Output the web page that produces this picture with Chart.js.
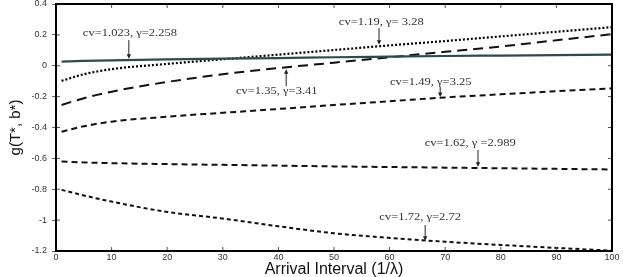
<!DOCTYPE html>
<html><head><meta charset="utf-8">
<script src="https://cdn.jsdelivr.net/npm/chart.js@4/dist/chart.umd.min.js"></script>
<style>html,body{margin:0;padding:0;background:#fff}#wrap{width:623px;height:277px;position:relative}</style>
</head><body><div id="wrap"><canvas id="c"></canvas></div>
<script>
// ---- data ----
const xValues = [1, 5, 10, 20, 30, 40, 50, 60, 70, 80, 90, 100];
const cv1023 = [0.027, 0.031, 0.035, 0.041, 0.046, 0.050, 0.055, 0.059, 0.063, 0.066, 0.069, 0.072];
const cv119  = [-0.098, -0.055, -0.022, 0.012, 0.042, 0.072, 0.102, 0.132, 0.160, 0.190, 0.220, 0.250];
const cv135  = [-0.254, -0.210, -0.168, -0.105, -0.055, -0.015, 0.020, 0.055, 0.090, 0.125, 0.165, 0.205];
const cv149  = [-0.427, -0.392, -0.362, -0.330, -0.305, -0.280, -0.254, -0.230, -0.205, -0.185, -0.165, -0.146];
const cv162  = [-0.621, -0.626, -0.631, -0.637, -0.642, -0.647, -0.652, -0.656, -0.660, -0.664, -0.668, -0.672];
const cv172  = [-0.804, -0.840, -0.880, -0.947, -0.990, -1.040, -1.085, -1.115, -1.140, -1.161, -1.180, -1.198];
const xTickLabels = ['0', '10', '20', '30', '40', '50', '60', '70', '80', '90', '100'];
const yTickLabels = ['-1.2', '-1', '-0.8', '-0.6', '-0.4', '-0.2', '0', '0.2', '0.4'];
const seriesNames = ['cv=1.023, γ=2.258', 'cv=1.19, γ= 3.28', 'cv=1.35, γ=3.41', 'cv=1.49, γ=3.25', 'cv=1.62, γ =2.989', 'cv=1.72, γ=2.72'];
// annotation anchors in data units: [textX, textY, arrowX, tailY, headY]
const annoText = seriesNames;
const annoAnchors = [
  [13.3, 0.212, 13.1, 0.166, 0.046],
  [58.5, 0.283, 58.1, 0.244, 0.136],
  [39.7, -0.164, 41.4, -0.132, -0.022],
  [67.4, -0.106, 69.1, -0.138, -0.203],
  [74.5, -0.500, 75.9, -0.546, -0.655],
  [65.5, -0.980, 66.4, -1.032, -1.134]
];

const seriesValues = [cv1023, cv119, cv135, cv149, cv162, cv172];
const styles = [
  {color: '#2f4a4a', width: 2.2, dash: []},
  {color: '#000', width: 2.2, dash: [2, 2]},
  {color: '#111', width: 2, dash: [10, 6]},
  {color: '#111', width: 2, dash: [6, 4]},
  {color: '#111', width: 2, dash: [6, 4]},
  {color: '#111', width: 2, dash: [4, 3]}
];

const datasets = seriesValues.map((vals, i) => ({
  label: seriesNames[i],
  data: xValues.map((x, j) => ({x: x, y: vals[j]})),
  borderColor: styles[i].color,
  borderWidth: styles[i].width,
  borderDash: styles[i].dash,
  pointRadius: 0,
  fill: false,
  cubicInterpolationMode: 'monotone'
}));

const framePlugin = {
  id: 'frame',
  afterDatasetsDraw(chart) {
    const {ctx, chartArea: a, scales} = chart;
    ctx.save();
    ctx.strokeStyle = '#555';
    ctx.lineWidth = 1;
    const tl = 4;
    scales.x.ticks.forEach(t => {
      const px = scales.x.getPixelForValue(t.value);
      ctx.beginPath();
      ctx.moveTo(px, a.bottom); ctx.lineTo(px, a.bottom - tl);
      ctx.moveTo(px, a.top); ctx.lineTo(px, a.top + tl);
      ctx.stroke();
    });
    scales.y.ticks.forEach(t => {
      const py = scales.y.getPixelForValue(t.value);
      ctx.beginPath();
      ctx.moveTo(a.right, py); ctx.lineTo(a.right - tl, py);
      ctx.moveTo(a.left, py); ctx.lineTo(a.left + tl, py);
      ctx.stroke();
    });
    ctx.strokeStyle = '#000';
    ctx.lineWidth = 2;
    ctx.strokeRect(a.left, a.top, a.right - a.left, a.bottom - a.top);
    ctx.restore();
  }
};

const annoPlugin = {
  id: 'anno',
  afterDatasetsDraw(chart) {
    const {ctx, scales} = chart;
    const sx = scales.x, sy = scales.y;
    ctx.save();
    annoAnchors.forEach((an, i) => {
      const tx = sx.getPixelForValue(an[0]);
      const ty = sy.getPixelForValue(an[1]);
      ctx.save();
      ctx.translate(tx, ty);
      ctx.scale(1.14, 1);
      ctx.font = "11px 'Liberation Serif', 'Times New Roman', serif";
      ctx.fillStyle = '#333';
      ctx.textAlign = 'center';
      ctx.textBaseline = 'middle';
      ctx.fillText(annoText[i], 0, 0);
      ctx.restore();
      const ax = sx.getPixelForValue(an[2]);
      const y1 = sy.getPixelForValue(an[3]);
      const y2 = sy.getPixelForValue(an[4]);
      const dir = y2 > y1 ? 1 : -1;
      ctx.strokeStyle = '#222';
      ctx.fillStyle = '#222';
      ctx.lineWidth = 1;
      ctx.beginPath();
      ctx.moveTo(ax, y1); ctx.lineTo(ax, y2 - dir * 3);
      ctx.stroke();
      ctx.beginPath();
      ctx.moveTo(ax, y2);
      ctx.lineTo(ax - 2.2, y2 - dir * 4.5);
      ctx.lineTo(ax + 2.2, y2 - dir * 4.5);
      ctx.closePath();
      ctx.fill();
    });
    ctx.restore();
  }
};

new Chart(document.getElementById('c'), {
  type: 'line',
  data: {datasets},
  options: {
    responsive: true,
    maintainAspectRatio: false,
    animation: false,
    events: [],
    layout: {padding: {left: 0, right: 11, top: 4, bottom: 0}},
    plugins: {legend: {display: false}, tooltip: {enabled: false}},
    scales: {
      x: {
        type: 'linear', min: 0, max: 100,
        afterFit(s) { s.height = 26; s.paddingLeft = 0; s.paddingRight = 0; },
        grid: {drawOnChartArea: false, drawTicks: false},
        border: {display: false},
        ticks: {
          stepSize: 10, padding: 1, maxRotation: 0, autoSkip: false,
          color: '#333',
          font: {family: "'Liberation Sans', Arial, sans-serif", size: 9},
          callback: (v, i) => xTickLabels[i]
        },
        title: {
          display: true, text: 'Arrival Interval (1/λ)', color: '#111',
          font: {family: "'Liberation Sans', Arial, sans-serif", size: 16, lineHeight: 1},
          padding: {top: 0, bottom: -1}
        }
      },
      y: {
        type: 'linear', min: -1.2, max: 0.4,
        afterFit(s) { s.width = 56; s.paddingTop = 0; s.paddingBottom = 0; },
        grid: {drawOnChartArea: false, drawTicks: true, tickLength: 4, color: '#666'},
        border: {display: false},
        ticks: {
          stepSize: 0.2, padding: 5, autoSkip: false,
          color: '#333',
          font: {family: "'Liberation Sans', Arial, sans-serif", size: 9},
          callback: (v, i) => yTickLabels[i]
        },
        title: {
          display: true, text: 'g(T*, b*)', color: '#111',
          font: {family: "'Liberation Sans', Arial, sans-serif", size: 15, lineHeight: 1},
          padding: {top: 8, bottom: 0}
        }
      }
    }
  },
  plugins: [framePlugin, annoPlugin]
});
</script>
</body></html>
